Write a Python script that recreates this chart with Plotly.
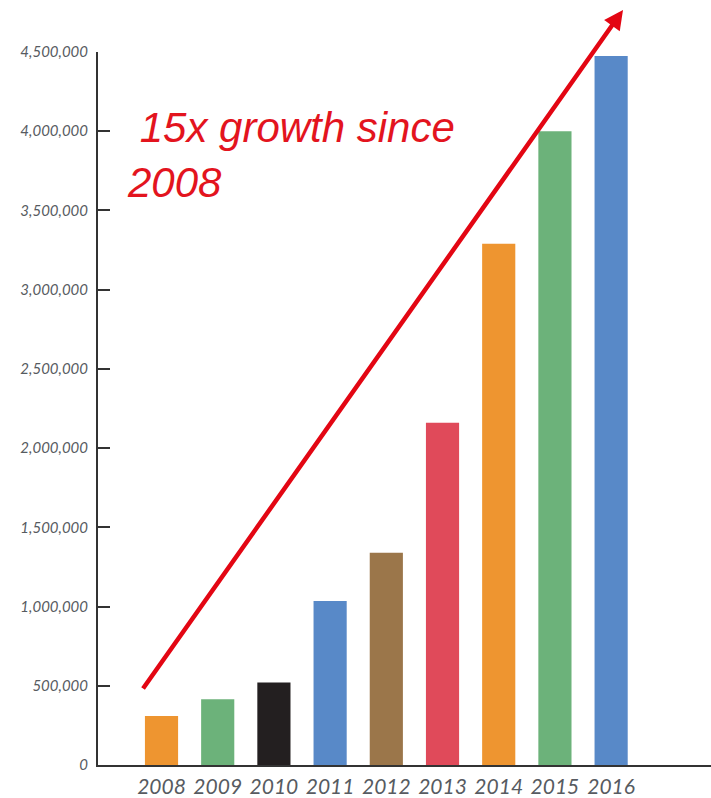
import plotly.graph_objects as go

# Yearly totals
years = ["2008", "2009", "2010", "2011", "2012", "2013", "2014", "2015", "2016"]
totals = [310000, 415000, 520000, 1035000, 1340000, 2160000, 3290000, 4000000, 4475000]
bar_colors = ["#EE9530", "#6CB27A", "#231F20", "#5889C8", "#9B764A",
              "#E04A5A", "#EE9530", "#6CB27A", "#5889C8"]

y_ticks = [0, 500000, 1000000, 1500000, 2000000, 2500000, 3000000, 3500000, 4000000, 4500000]
y_tick_text = ["0", "500,000", "1,000,000", "1,500,000", "2,000,000", "2,500,000",
               "3,000,000", "3,500,000", "4,000,000", "4,500,000"]

W, H = 711, 798
M_L, M_R, M_T, M_B = 98, 0, 52, 33
plot_w = W - M_L - M_R
plot_h = H - M_T - M_B


def px_to_paper(px, py):
    return (px - M_L) / plot_w, (H - M_B - py) / plot_h


fig = go.Figure(
    go.Bar(
        x=list(range(len(years))),
        y=totals,
        marker=dict(color=bar_colors, line=dict(width=0)),
        hoverinfo="x+y",
    )
)

axis_font = dict(family="Lato, 'Open Sans', sans-serif", color="#575b61", style="italic")

fig.update_layout(
    width=W,
    height=H,
    margin=dict(l=M_L, r=M_R, t=M_T, b=M_B, pad=0),
    paper_bgcolor="white",
    plot_bgcolor="white",
    showlegend=False,
    bargap=0.41,
    xaxis=dict(
        range=[-1.13, 9.777],
        tickmode="array",
        tickvals=list(range(len(years))),
        ticktext=years,
        ticks="",
        showgrid=False,
        zeroline=False,
        showline=True,
        linecolor="#333333",
        linewidth=2,
        ticklabelstandoff=2,
        tickfont=dict(size=21, **axis_font),
    ),
    yaxis=dict(
        range=[0, 4500000],
        tickmode="array",
        tickvals=y_ticks,
        ticktext=y_tick_text,
        ticks="inside",
        ticklen=12,
        tickwidth=2,
        tickcolor="#333333",
        showgrid=False,
        zeroline=False,
        showline=True,
        linecolor="#333333",
        linewidth=2,
        ticklabelstandoff=5,
        tickfont=dict(size=15, **axis_font),
    ),
)

# Growth arrow
head_x, head_y = px_to_paper(623, 10)
fig.add_annotation(
    xref="paper", yref="paper",
    x=head_x, y=head_y,
    ax=142 - 623, ay=690 - 10,
    text="",
    showarrow=True,
    arrowhead=2,
    arrowsize=0.85,
    arrowwidth=4.5,
    arrowcolor="#E30613",
)

# Headline
tx, ty = px_to_paper(125, 102)
fig.add_annotation(
    xref="paper", yref="paper",
    x=tx, y=ty,
    xanchor="left", yanchor="top",
    align="left",
    showarrow=False,
    text="\u00a015x growth since<br>2008",
    font=dict(family="'Liberation Sans', Arial, sans-serif", size=42,
              color="#E3141E", style="italic"),
)

fig.write_html("out.html")
